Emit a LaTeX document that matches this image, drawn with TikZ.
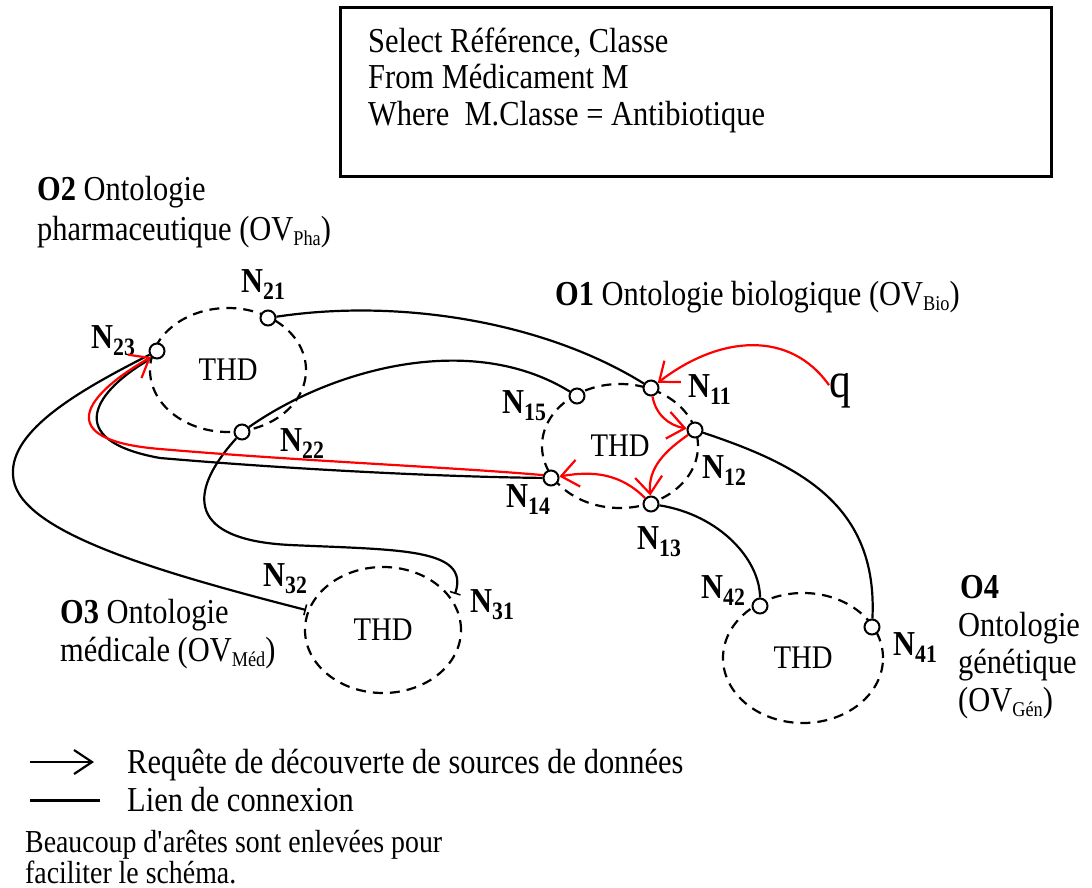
\documentclass[tikz,border=0pt]{standalone}
\usepackage{fontspec}
\setmainfont[FakeStretch=0.87]{Liberation Serif}
\usetikzlibrary{arrows.meta,shapes.geometric}

\newcommand\fsz[1]{\fontsize{#1}{#1}\selectfont}
% node label N with lowered index
\newcommand\Nsub[1]{N\raisebox{-7pt}{\fsz{25}#1}}
% lowered index of OV
\newcommand\ovsub[1]{\raisebox{-5pt}{\fsz{21}#1}}

\begin{document}
\begin{tikzpicture}[x=1pt,y=-1pt,
  lnk/.style={line width=2.2pt},
  req/.style={red, line width=2.2pt, -{Straight Barb[length=17pt,width=27pt,line width=2.2pt]}},
  thd/.style={ellipse, draw, dash pattern=on 10pt off 7pt, line width=2.2pt,
              minimum width=156pt, minimum height=124pt, inner sep=0pt, font=\fsz{33}},
  pt/.style={circle, draw, fill=white, line width=2pt, minimum size=15pt, inner sep=0pt},
  lbl/.style={anchor=base west, inner sep=0pt, font=\fsz{35}},
  nlab/.style={anchor=base west, inner sep=0pt, font=\fsz{35}\bfseries},
  endtick/.style={-{Bar[width=11pt,line width=1.6pt]}},
]
\useasboundingbox (0,0) rectangle (1092,888);

% query box
\node[draw, line width=3pt, anchor=north west, minimum width=711pt,
      minimum height=169pt, inner sep=0pt] (query) at (339,6) {};
\node[lbl] (s1) at (368,53) {Select Référence, Classe};
\node[lbl] (s2) at (368,89) {From Médicament M};
\node[lbl] (s3) at (368,126) {Where\ \ M.Classe = Antibiotique};

% ontology titles
\node[lbl] (o2a) at (37,200) {\textbf{O2} Ontologie};
\node[lbl] (o2b) at (37,240) {pharmaceutique (OV\ovsub{Pha})};
\node[lbl] (o1) at (555,305) {\textbf{O1} Ontologie biologique (OV\ovsub{Bio})};
\node[lbl] (o3a) at (60,623) {\textbf{O3} Ontologie};
\node[lbl] (o3b) at (60,661) {médicale (OV\ovsub{Méd})};
\node[lbl] (o4a) at (960,598) {\textbf{O4}};
\node[lbl] (o4b) at (958,636) {Ontologie};
\node[lbl] (o4c) at (958,673) {génétique};
\node[lbl] (o4d) at (958,711) {(OV\ovsub{Gén})};

% THD rings
\node[thd] (E2) at (228,370) {THD};
\node[thd] (E1) at (620,446) {THD};
\node[thd, minimum height=126pt] (E3) at (383,630) {THD};
\node[thd, minimum width=160pt, minimum height=130pt] (E4) at (803,658) {THD};

% peer nodes
\node[pt] (N21) at (268,318) {};
\node[pt] (N23) at (157,351) {};
\node[pt] (N22) at (242,432) {};
\node[pt] (N11) at (651,388) {};
\node[pt] (N12) at (695,430) {};
\node[pt] (N13) at (651,504) {};
\node[pt] (N14) at (551,478) {};
\node[pt] (N15) at (577,396) {};
\node[pt] (N42) at (760,606) {};
\node[pt] (N41) at (872,627) {};
\coordinate (N32) at (306,610);
\coordinate (N31) at (455,594);

% peer labels
\node[nlab] (L21) at (241,292) {\Nsub{21}};
\node[nlab] (L23) at (91,348) {\Nsub{23}};
\node[nlab] (L22) at (280,451) {\Nsub{22}};
\node[nlab] (L15) at (502,413) {\Nsub{15}};
\node[nlab] (L11) at (688,397) {\Nsub{11}};
\node[nlab] (L12) at (702,478) {\Nsub{12}};
\node[nlab] (L14) at (506,507) {\Nsub{14}};
\node[nlab] (L13) at (637,549) {\Nsub{13}};
\node[nlab] (L32) at (263,586) {\Nsub{32}};
\node[nlab] (L31) at (470,612) {\Nsub{31}};
\node[nlab] (L42) at (701,598) {\Nsub{42}};
\node[nlab] (L41) at (893,655) {\Nsub{41}};

\node[anchor=base west, inner sep=0pt, font=\fsz{50}] (q) at (829,397) {q};

% connection links
\draw[lnk] (N21) .. controls (400,298) and (545,322) .. (N11);
\draw[lnk] (N22) .. controls (330,370) and (470,330) .. (N15);
\draw[lnk, endtick] (N22) .. controls (185,495) and (190,540) .. (290,545)
      .. controls (400,550) and (470,548) .. (N31);
\draw[lnk, endtick] (N23) .. controls (80,390) and (10,430) .. (13,475)
      .. controls (15,530) and (150,570) .. (N32);
\draw[lnk] (N23.235) .. controls (95,390) and (60,440) .. (160,458)
      .. controls (300,470) and (450,477) .. (N14);
\draw[lnk] (N12) .. controls (800,465) and (878,505) .. (N41);
\draw[lnk] (N13) .. controls (720,515) and (760,560) .. (N42);

% discovery request
\draw[req] (q.155) .. controls (790,330) and (720,335) .. (N11);
\draw[req] (N11) to[out=-80,in=170] (N12);
\draw[req] (N12) to[out=215,in=95] (N13);
\draw[req] (N13) to[out=135,in=10] (N14);
\draw[req] (N14.160) .. controls (450,467) and (300,461) .. (160,449)
      .. controls (50,440) and (85,395) .. (N23.225);

% legend
\coordinate (la1) at (30,762);
\coordinate (la2) at (94,762);
\coordinate (lb1) at (30,800);
\coordinate (lb2) at (100,800);
\draw[line width=2.2pt, -{Straight Barb[length=18pt,width=24pt,line width=2.2pt]}] (la1) -- (la2);
\draw[line width=3pt] (lb1) -- (lb2);
\node[lbl] (leg1) at (127,773) {Requête de découverte de sources de données};
\node[lbl] (leg2) at (127,811) {Lien de connexion};
\node[anchor=base west, inner sep=0pt, font=\fsz{32}] (nt1) at (25,852)
  {Beaucoup d\textquotesingle arêtes sont enlevées pour};
\node[anchor=base west, inner sep=0pt, font=\fsz{32}] (nt2) at (25,883)
  {faciliter le schéma.};
\end{tikzpicture}
\end{document}
